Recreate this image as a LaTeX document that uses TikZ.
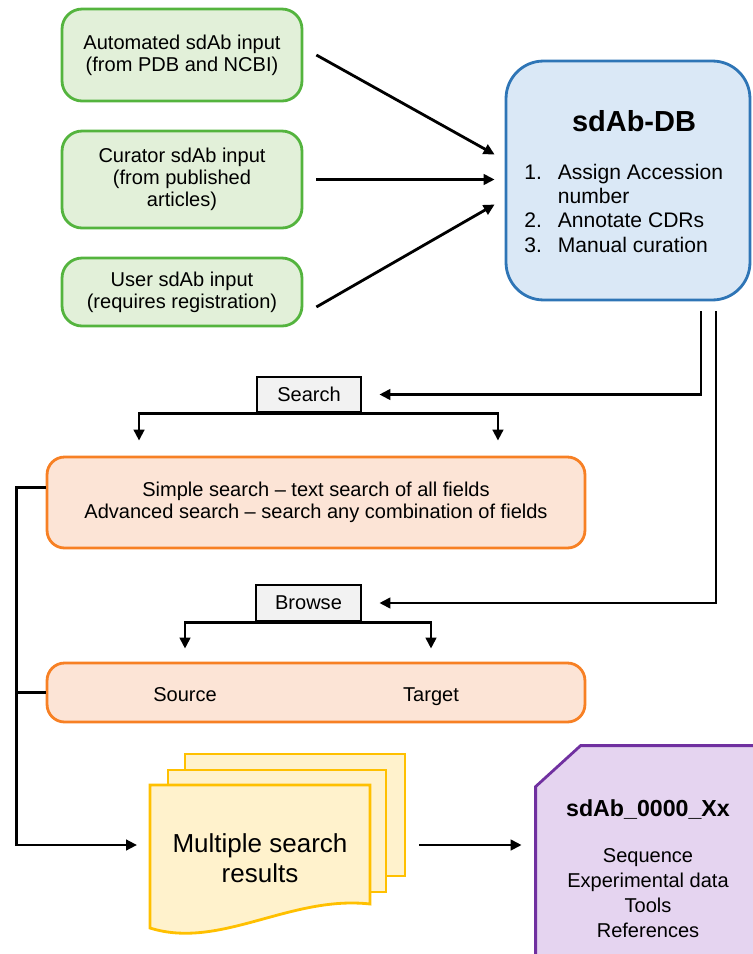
\documentclass[tikz,border=0pt]{standalone}
\usepackage{fontspec}
\setmainfont{Liberation Sans}
\usepackage{tikz}
\usetikzlibrary{backgrounds,calc,arrows.meta}

\definecolor{inFill}{RGB}{226,240,217}
\definecolor{inLine}{RGB}{84,180,62}
\definecolor{dbFill}{RGB}{218,232,246}
\definecolor{dbLine}{RGB}{46,117,182}
\definecolor{optFill}{RGB}{252,228,214}
\definecolor{optLine}{RGB}{247,128,36}
\definecolor{modeFill}{RGB}{242,242,242}
\definecolor{pageFill}{RGB}{255,242,204}
\definecolor{pageLine}{RGB}{255,192,0}
\definecolor{recFill}{RGB}{229,212,240}
\definecolor{recLine}{RGB}{112,48,160}

\begin{document}
\begin{tikzpicture}[x=0.02cm,y=-0.02cm,line width=1.6pt,font=\fontsize{11.4}{12.5}\selectfont]
  \tikzstyle{inbox} = [draw=inLine,fill=inFill,rounded corners=0.4cm,minimum width=4.8cm,align=center]
  \tikzstyle{dbbox} = [draw=dbLine,fill=dbFill,rounded corners=0.75cm,minimum width=4.88cm,minimum height=4.78cm]
  \tikzstyle{modebox} = [draw=black,fill=modeFill,inner sep=0pt]
  \tikzstyle{optbox} = [draw=optLine,fill=optFill,rounded corners=0.35cm,minimum width=10.76cm,align=center]
  \tikzstyle{pagebox} = [draw=pageLine,fill=pageFill,line width=1.6pt]
  \tikzstyle{recbox} = [draw=recLine,fill=recFill,line width=1.6pt]
  \tikzstyle{link} = [line width=1.6pt]
  \tikzstyle{flow} = [link,-{Triangle[length=0.22cm,width=0.21cm]}]
  \useasboundingbox (0,0) rectangle (752,954);
  %
  % Input sources.
  \node[inbox,minimum height=1.84cm] (in1) at (182,55) {Automated sdAb input\\(from PDB and NCBI)};
  \node[inbox,minimum height=1.94cm] (in2) at (182,179.5) {Curator sdAb input\\(from published\\articles)};
  \node[inbox,minimum height=1.36cm] (in3) at (182,292) {User sdAb input\\(requires registration)};
  % Database box.
  \node[dbbox] (db) at (628,180.5) {};
  \node[font=\fontsize{16.5}{18}\selectfont\bfseries] (dbname) at (634,121) {sdAb-DB};
  \node[anchor=north west,inner sep=0pt,font=\fontsize{12}{13.9}\selectfont] (steps) at (523,160.5)
    {\begin{tabular}[t]{@{}l@{\hspace{9pt}}l@{}}
      1. & Assign Accession\\
         & number\\
      2. & Annotate CDRs\\
      3. & Manual curation
    \end{tabular}};
  % Search and browse.
  \node[modebox,minimum width=2.08cm,minimum height=0.7cm] (srch) at (309,394.5) {Search};
  \node[optbox,minimum height=1.82cm] (simple) at (316,502.5)
    {Simple search -- text search of all fields\\Advanced search -- search any combination of fields};
  \node[modebox,minimum width=2.1cm,minimum height=0.72cm] (brws) at (308.5,603) {Browse};
  \node[optbox,minimum height=1.18cm] (srctgt) at (316,692.5) {};
  \node[anchor=base] (src) at (185,701) {Source};
  \node[anchor=base] (tgt) at (431,701) {Target};
  % Stack of results.
  \node[pagebox,minimum width=4.4cm,minimum height=2.44cm] (pg3) at (295,815) {};
  \node[pagebox,minimum width=4.36cm,minimum height=2.44cm] (pg2) at (277,831) {};
  \draw[pagebox] (150,785) -- (370,785) -- (370,904) .. controls (290,895) and (220,950) .. (150,928) -- cycle;
  \coordinate (pg1) at (150,845);
  \node[font=\fontsize{14.8}{17}\selectfont,align=center] (res) at (260,858) {Multiple search\\results};
  % Single record.
  \node[minimum width=4.44cm,minimum height=4.88cm,align=center,font=\fontsize{11.4}{14.2}\selectfont] (rec) at (648,869)
    {{\fontsize{13.2}{15}\selectfont\bfseries sdAb\_0000\_Xx}\\[12pt]
     Sequence\\Experimental data\\Tools\\References};
  \begin{pgfonlayer}{background}
      % Draw record outline with cut corner.
      \draw[recbox] ([yshift=-0.82cm]rec.north west) -- ([xshift=0.9cm]rec.north west) -- (rec.north east)
        -- (rec.south east) -- (rec.south west) -- cycle;
  \end{pgfonlayer}
  %
  % Draw arrows into the database.
  \draw[flow] ([xshift=0.26cm]in1.east) -- ([shift={(-0.2cm,0.52cm)}]db.west);
  \draw[flow,shorten <=0.26cm,shorten >=0.2cm] (in2) -- (db.west |- in2);
  \draw[flow] ([shift={(0.26cm,-0.3cm)}]in3.east) -- ([shift={(-0.2cm,-0.48cm)}]db.west);
  % Draw database lines to search and browse.
  \draw[flow] ([shift={(1.46cm,-0.2cm)}]db.south) |- ([xshift=0.34cm]srch.east);
  \draw[flow] ([shift={(1.76cm,-0.2cm)}]db.south) |- ([xshift=0.34cm]brws.east);
  \draw[flow,shorten >=0.3cm] (srch.south) -| ([xshift=-3.54cm]simple.north);
  \draw[flow,shorten >=0.3cm] (srch.south) -| ([xshift=3.64cm]simple.north);
  \draw[flow,shorten >=0.26cm] (brws.south) -| (src |- srctgt.north);
  \draw[flow,shorten >=0.26cm] (brws.south) -| (tgt |- srctgt.north);
  % Draw lines to the results.
  \draw[flow,shorten >=0.26cm] ([yshift=0.3cm]simple.west) -- ++(-29,0) |- (pg1);
  \draw[link] (srctgt.west) -- ++(-29,0);
  \draw[flow,shorten <=0.26cm,shorten >=0.28cm] (pg3.east |- pg1) -- (rec.west |- pg1);
\end{tikzpicture}
\end{document}
